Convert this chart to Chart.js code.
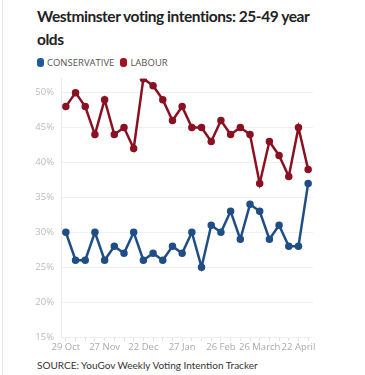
<!DOCTYPE html>
<html>
<head>
<meta charset="utf-8">
<script src="https://cdn.jsdelivr.net/npm/chart.js@4"></script>
<style>
  html, body { margin: 0; padding: 0; background: #fff; }
  body { width: 365px; height: 375px; position: relative; overflow: hidden; font-family: "Open Sans", sans-serif; }
  #border { position: absolute; left: 2px; top: 0; width: 1px; height: 375px; background: #e4e4e4; }
  #title { position: absolute; left: 37px; top: 5px; width: 288px; font-family: Lato, sans-serif; font-size: 15.5px; font-weight: 700; line-height: 23px; color: #222; letter-spacing: -0.45px; }
  #legend { position: absolute; left: 37px; top: 56px; font-size: 9.5px; color: #555; display: flex; align-items: center; }
  .item { display: flex; align-items: center; margin-right: 6px; }
  .sw { width: 7px; height: 9px; border-radius: 3px; margin-right: 3px; }
  #wrap { position: absolute; left: 0; top: 66px; width: 365px; height: 289px; }
  #source { position: absolute; left: 37px; top: 359px; font-family: Lato, sans-serif; font-size: 10px; color: #333; }
</style>
</head>
<body>
<div id="border"></div>
<div id="title">Westminster voting intentions: 25-49 year olds</div>
<div id="legend"></div>
<div id="wrap"><canvas id="c"></canvas></div>
<div id="source">SOURCE: YouGov Weekly Voting Intention Tracker</div>
<script>
const xLabels = ["29 Oct","","","","27 Nov","","","","22 Dec","","","","27 Jan","","","","26 Feb","","","","26 March","","","","22 April",""];
const conservative = [30,26,26,30,26,28,27,30,26,27,26,28,27,30,25,31,30,33,29,34,33,29,31,28,28,37];
const labour = [48,50,48,44,49,44,45,42,52,51,49,46,48,45,45,43,46,44,45,44,37,43,41,38,45,39];
const seriesNames = ["CONSERVATIVE","LABOUR"];
const lineColors = ["#1e4e85","#8a1121"];
const swatchColors = ["#1f5aa0","#a3121f"];
const yTicks = [15,20,25,30,35,40,45,50];

const leg = document.getElementById('legend');
seriesNames.forEach((n,i)=>{
  const it = document.createElement('div'); it.className='item';
  const sw = document.createElement('div'); sw.className='sw'; sw.style.background = swatchColors[i];
  const t = document.createElement('span'); t.textContent = n;
  it.appendChild(sw); it.appendChild(t); leg.appendChild(it);
});

const mk = (data, i) => ({
  label: seriesNames[i], data,
  borderColor: lineColors[i], backgroundColor: lineColors[i],
  pointBackgroundColor: lineColors[i], pointBorderColor: lineColors[i],
  borderWidth: 2.5, pointRadius: 2.5, pointHoverRadius: 3, tension: 0
});

new Chart(document.getElementById('c'), {
  type: 'line',
  data: { labels: xLabels, datasets: [mk(conservative,0), mk(labour,1)] },
  options: {
    responsive: true, maintainAspectRatio: false, animation: false,
    layout: { padding: { left: 0, right: 52, top: 4, bottom: 0 } },
    plugins: { legend: { display: false }, tooltip: { enabled: false } },
    scales: {
      x: {
        offset: true,
        grid: { drawOnChartArea: false, drawTicks: true, tickLength: 4, color: '#e2e2e2' },
        border: { display: false },
        ticks: { autoSkip: false, maxRotation: 0, minRotation: 0, padding: 1, color: '#aaa', font: { family: 'Open Sans', size: 9.5 } },
        afterFit: s => { s.height = 18; }
      },
      y: {
        min: 15, max: 52, bounds: 'data',
        grid: { color: '#efefef', drawTicks: false },
        border: { display: true, color: '#eaeaea' },
        ticks: { stepSize: 5, includeBounds: false, padding: 7, color: '#bbb', font: { family: 'Open Sans', size: 9.5 }, callback: v => v + '%' },
        afterBuildTicks: s => { s.ticks = yTicks.map(v => ({ value: v })); },
        afterFit: s => { s.width = 61; }
      }
    }
  }
});
</script>
</body>
</html>
